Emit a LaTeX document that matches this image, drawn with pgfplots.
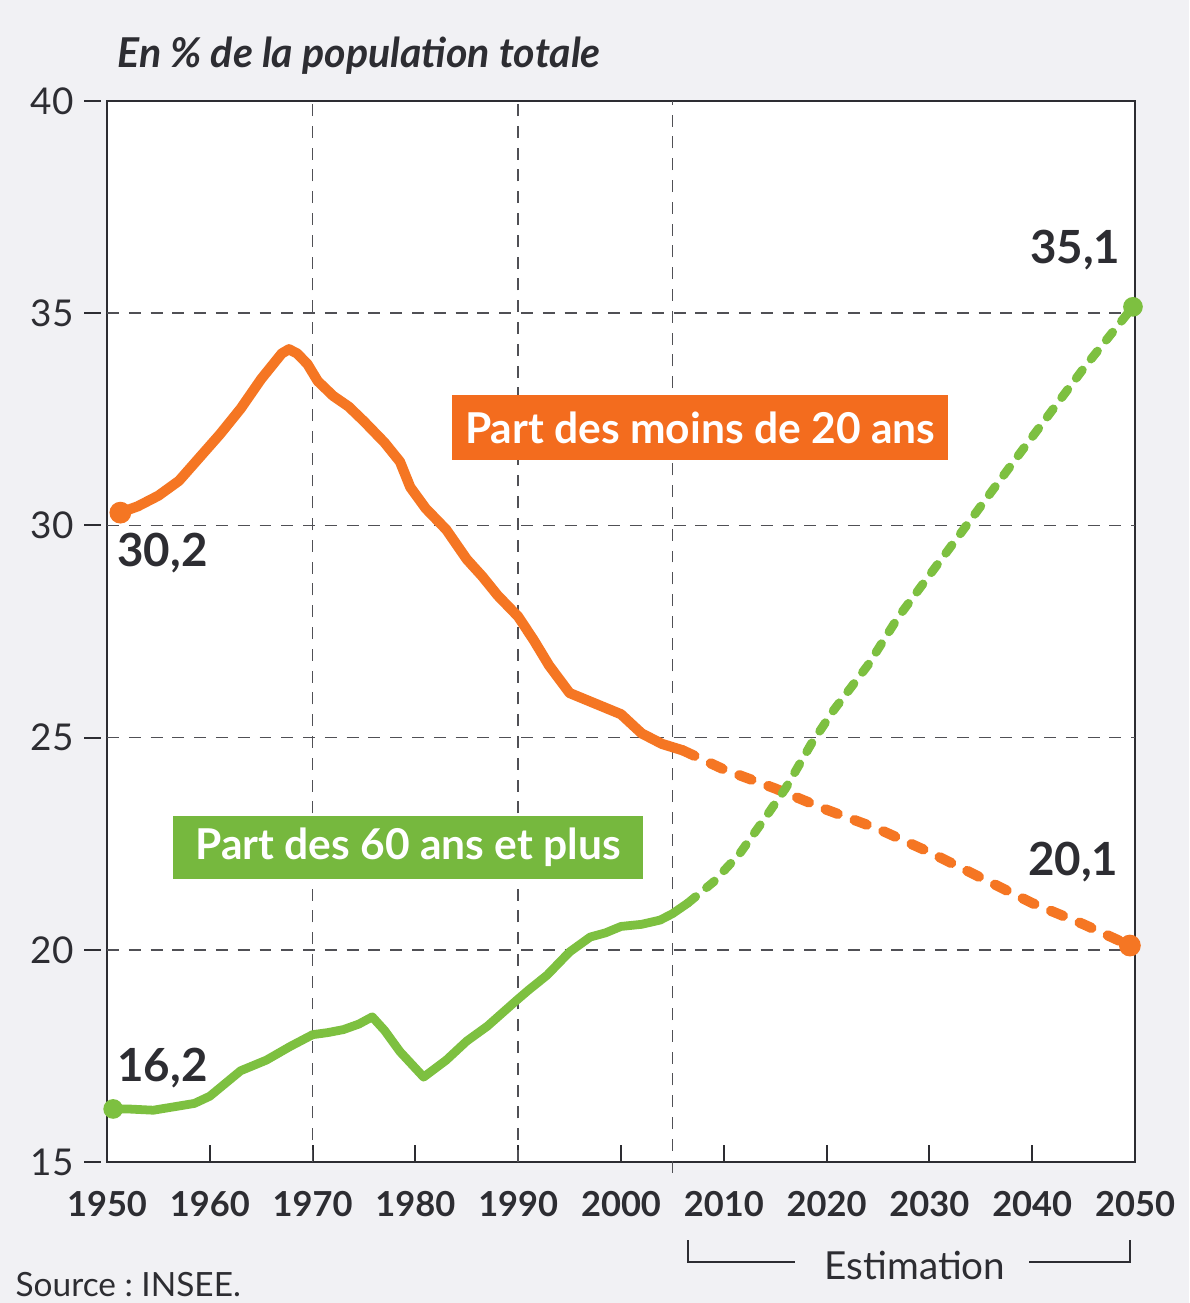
\documentclass[border=0pt]{standalone}
\usepackage{pgfplots}
\pgfplotsset{compat=1.18}
\usepackage{fontspec}
\setmainfont{Lato}
\definecolor{orx}{RGB}{245,118,35}
\definecolor{orbox}{RGB}{243,108,30}
\definecolor{grx}{RGB}{125,192,64}
\definecolor{grbox}{RGB}{118,184,62}
\definecolor{ink}{RGB}{45,45,50}
\definecolor{bgc}{RGB}{241,241,244}
\definecolor{gridc}{RGB}{80,80,85}

\begin{document}
\frenchspacing
\begin{tikzpicture}[x=1cm,y=1cm]
\fill[bgc] (0,0) rectangle (11.89,13.03);
\begin{axis}[
  at={(1.07cm,1.41cm)}, anchor=south west,
  scale only axis, width=10.28cm, height=10.61cm,
  xmin=1950, xmax=2050, ymin=15, ymax=40,
  axis background/.style={fill=white},
  clip=false,
  axis line style={ink, line width=0.6pt},
  xtick={1950,1960,...,2050},
  ytick={15,20,...,40},
  xtick pos=bottom, ytick pos=left,
  xtick align=inside, ytick align=outside,
  major tick length=0.17cm,
  tick style={ink, line width=0.6pt},
  y tick style={xshift=-0.06cm},
  /pgf/number format/1000 sep={},
  /pgf/number format/assume math mode=true,
  x tick label style={font=\bfseries\fontsize{9.8}{11}\selectfont, text=ink, yshift=-0.17cm},
  y tick label style={font=\fontsize{10.5}{12}\selectfont, text=ink, xshift=-0.04cm},
]
% grid
\foreach \yy in {20,25,30,35}{
  \edef\tmp{\noexpand\draw[gridc, line width=0.5pt, dash pattern=on 3.4pt off 2.8pt] (axis cs:1950,\yy) -- (axis cs:2050,\yy);}\tmp
}
\draw[gridc, line width=0.5pt, dash pattern=on 3.4pt off 2.8pt] (axis cs:1970,15) -- (axis cs:1970,40);
\draw[gridc, line width=0.5pt, dash pattern=on 3.4pt off 2.8pt] (axis cs:1990,15) -- (axis cs:1990,40);
\draw[gridc, line width=0.5pt, dash pattern=on 3.4pt off 2.8pt] (axis cs:2005,14.75) -- (axis cs:2005,40);

% orange observed
\addplot[orx, line width=2.9pt, line join=round, line cap=round] table {
x y
1951.3 30.3
1953 30.45
1955 30.7
1957 31.05
1959 31.6
1961 32.15
1963 32.75
1965 33.45
1967 34.05
1967.7 34.15
1968.5 34.05
1969.5 33.8
1970.5 33.4
1972 33.05
1973.5 32.8
1975 32.45
1977 31.95
1978.5 31.5
1979.5 30.9
1981 30.4
1983 29.9
1985 29.2
1986.5 28.8
1988 28.35
1990 27.85
1991.5 27.3
1993 26.7
1995 26.05
1997 25.85
2000 25.55
2002 25.1
2004 24.85
2006 24.7
};
% orange projected
\addplot[orx, line width=2.9pt, line cap=round, dash pattern=on 3.7pt off 5.1pt] table {
x y
2006 24.7
2010 24.25
2015 23.8
2020 23.3
2025 22.85
2030 22.3
2035 21.7
2040 21.1
2045 20.6
2049.5 20.1
};
% green observed
\addplot[grx, line width=2.5pt, line join=round, line cap=round] table {
x y
1950.6 16.25
1952 16.25
1954.5 16.22
1956.5 16.3
1958.5 16.38
1960 16.55
1961.5 16.85
1963 17.15
1965.5 17.4
1967.8 17.72
1970 18.0
1971.5 18.05
1973 18.12
1974.5 18.25
1975.8 18.42
1977 18.1
1978.5 17.6
1980.8 17.0
1983 17.4
1985 17.85
1987 18.2
1989.8 18.8
1991 19.05
1992.8 19.4
1995 19.95
1997 20.3
1998.5 20.4
2000 20.55
2002 20.6
2003.8 20.7
2005 20.85
2006.5 21.1
};
% green projected
\addplot[grx, line width=2.5pt, line cap=round, dash pattern=on 2.9pt off 4pt] table {
x y
2006.5 21.1
2009 21.6
2011.5 22.25
2014 23.1
2016 23.8
2018.5 24.85
2020.7 25.65
2024 26.7
2027 27.85
2033 29.8
2038.5 31.6
2045 33.7
2049.8 35.15
};
% end points
\addplot[only marks, mark=*, mark size=2.9pt, orx] coordinates {(1951.3,30.3) (2049.5,20.1)};
\addplot[only marks, mark=*, mark size=2.6pt, grx] coordinates {(1950.6,16.25) (2049.8,35.15)};

% value labels
\node[font=\bfseries\fontsize{13}{15}\selectfont, text=ink] at (axis cs:2044.2,36.49) {35,1};
\node[font=\bfseries\fontsize{13}{15}\selectfont, text=ink] at (axis cs:1955.4,29.35) {30,2};
\node[font=\bfseries\fontsize{13}{15}\selectfont, text=ink] at (axis cs:2044.0,22.07) {20,1};
\node[font=\bfseries\fontsize{13}{15}\selectfont, text=ink] at (axis cs:1955.4,17.22) {16,2};

% boxes
\node[fill=orbox, text=white, font=\bfseries\fontsize{12.1}{14}\selectfont, minimum width=4.96cm, minimum height=0.65cm, inner sep=0pt] at (axis cs:2007.7,32.3) {Part des moins de 20 ans};
\node[fill=grbox, text=white, font=\bfseries\fontsize{12.1}{14}\selectfont, minimum width=4.70cm, minimum height=0.63cm, inner sep=0pt] at (axis cs:1979.3,22.42) {Part des 60 ans et plus};

% title
\node[anchor=base west, font=\bfseries\itshape\fontsize{11.7}{13}\selectfont, text=ink, inner sep=0pt] at (axis cs:1950.97,40.8) {En \% de la population totale};

% estimation bracket
\draw[ink, line width=0.6pt] (axis cs:2006.5,13.16) -- (axis cs:2006.5,12.64) -- (axis cs:2016.9,12.64);
\draw[ink, line width=0.6pt] (axis cs:2039.7,12.64) -- (axis cs:2049.5,12.64) -- (axis cs:2049.5,13.16);
\node[font=\fontsize{11}{13}\selectfont, text=ink] at (axis cs:2028.6,12.57) {Estimation};
\end{axis}
\node[anchor=base west, font=\fontsize{9.5}{11}\selectfont, text=ink, inner sep=0pt] at (0.15,0.07) {Source : INSEE.};
\end{tikzpicture}
\end{document}
